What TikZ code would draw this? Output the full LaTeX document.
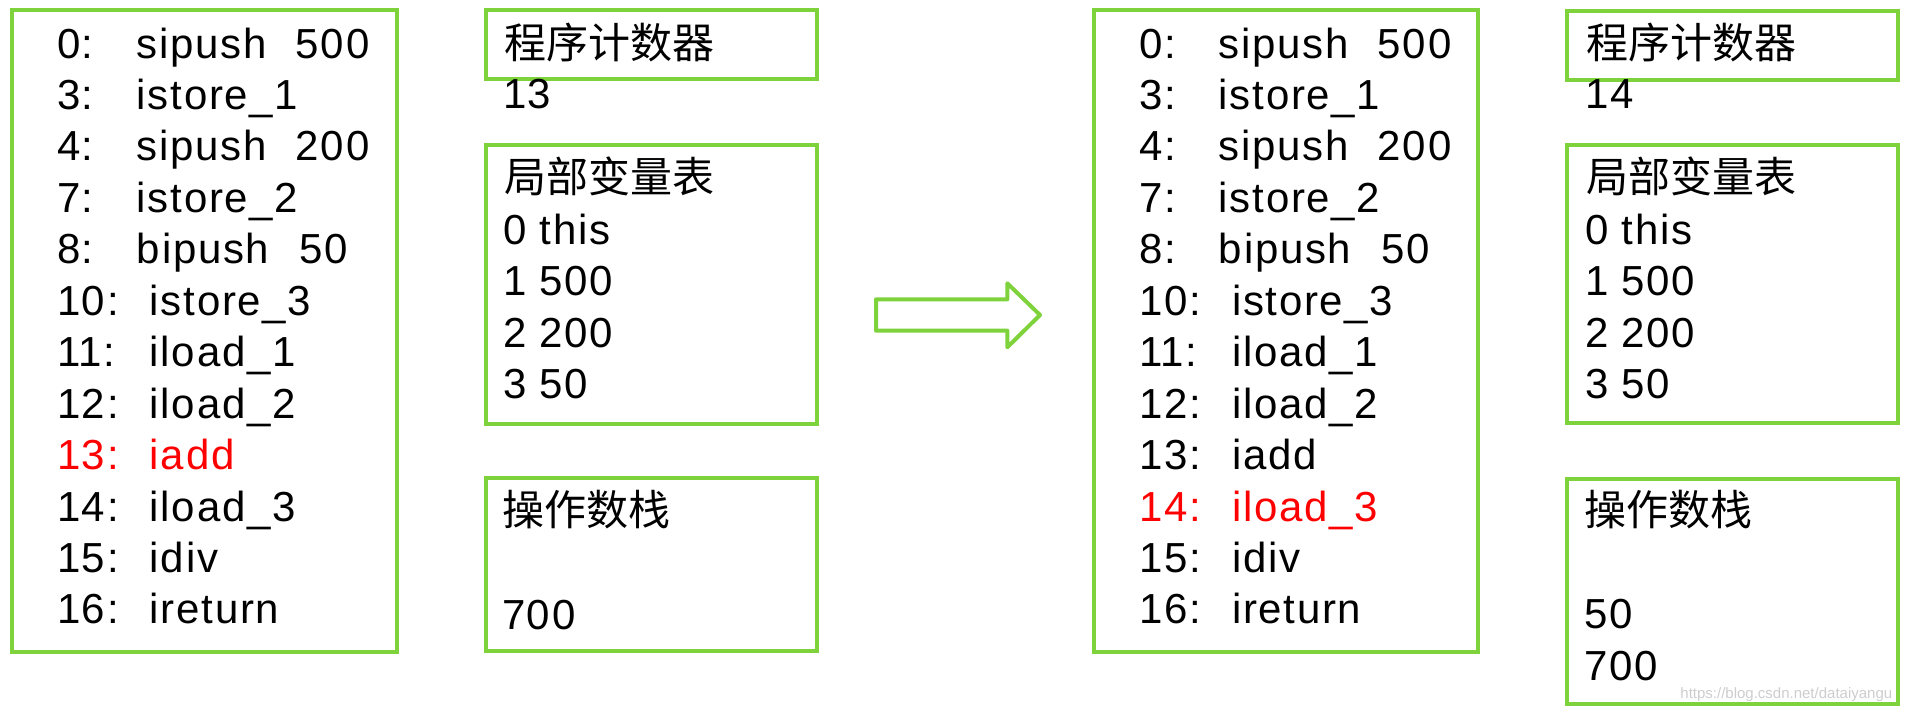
\documentclass[tikz,border=0pt]{standalone}
\usepackage{fontspec}
\setmainfont{Liberation Sans}[LetterSpace=4]
\newfontfamily\cjk{Noto Sans CJK SC}
\newfontfamily\wmfont{Liberation Sans}
\definecolor{boxgreen}{RGB}{126,211,60}
\definecolor{wmgray}{RGB}{205,205,205}
\begin{document}
\begin{tikzpicture}[x=0.5pt,y=-0.5pt,
  greenbox/.style={draw=boxgreen, line width=2pt, inner sep=0pt, outer sep=0pt, rectangle},
  txt/.style={anchor=base west, inner sep=0pt, outer sep=0pt, font=\fontsize{21pt}{25.7pt}\selectfont},
  cjktxt/.style={txt, font=\fontsize{21pt}{25.7pt}\selectfont\cjk},
  arrowshape/.style={draw=boxgreen, line width=2pt, line join=round, fill=white}]
\useasboundingbox (0,0) rectangle (1912,712);

% boxes
\node[greenbox, minimum width=192.5pt, minimum height=321pt] (code1) at (204.5,331) {};
\node[greenbox, minimum width=165.5pt, minimum height=34.5pt] (pc1) at (651.4,44.5) {};
\node[greenbox, minimum width=165.5pt, minimum height=139.5pt] (lv1) at (651.4,284) {};
\node[greenbox, minimum width=165.5pt, minimum height=86.5pt] (st1) at (651.4,564.5) {};

\node[greenbox, minimum width=192pt, minimum height=321pt] (code2) at (1286,331) {};
\node[greenbox, minimum width=165.5pt, minimum height=34.5pt] (pc2) at (1732.5,45) {};
\node[greenbox, minimum width=165.5pt, minimum height=139pt] (lv2) at (1732.5,284.2) {};
\node[greenbox, minimum width=165.5pt, minimum height=112.5pt] (st2) at (1732.5,591) {};

% code listing
\def\coderows{
 {\makebox[40pt][l]{0:}\makebox[79.5pt][l]{sipush}500},
 {\makebox[40pt][l]{3:}istore\_1},
 {\makebox[40pt][l]{4:}\makebox[79.5pt][l]{sipush}200},
 {\makebox[40pt][l]{7:}istore\_2},
 {\makebox[40pt][l]{8:}\makebox[81.5pt][l]{bipush}50},
 {\makebox[46.5pt][l]{10:}istore\_3},
 {\makebox[46.5pt][l]{11:}iload\_1},
 {\makebox[46.5pt][l]{12:}iload\_2},
 {\makebox[46.5pt][l]{13:}iadd},
 {\makebox[46.5pt][l]{14:}iload\_3},
 {\makebox[46.5pt][l]{15:}idiv},
 {\makebox[46.5pt][l]{16:}ireturn}}
\foreach \t [count=\i from 0] in \coderows {
  \ifnum\i=8 \def\lcol{red}\else\def\lcol{black}\fi
  \ifnum\i=9 \def\rcol{red}\else\def\rcol{black}\fi
  \node[txt, text=\lcol] (l\i) at (57, 58+51.45*\i) {\t};
  \node[txt, text=\rcol] (r\i) at (1139, 58+51.45*\i) {\t};
}

% left state
\node[cjktxt] (pct1) at (504,58) {程序计数器};
\node[txt] (pcv1) at (503,108) {13};
\node[cjktxt] (lvt1) at (504,192.5) {局部变量表};
\node[txt] (lva1) at (503,244.3) {0 this};
\node[txt] (lvb1) at (503,295.7) {1 500};
\node[txt] (lvc1) at (503,347) {2 200};
\node[txt] (lvd1) at (503,398.3) {3 50};
\node[cjktxt] (stt1) at (502,525) {操作数栈};
\node[txt] (sta1) at (502,629) {700};

% right state
\node[cjktxt] (pct2) at (1586,58) {程序计数器};
\node[txt] (pcv2) at (1585,108) {14};
\node[cjktxt] (lvt2) at (1586,192.5) {局部变量表};
\node[txt] (lva2) at (1585,244.3) {0 this};
\node[txt] (lvb2) at (1585,295.7) {1 500};
\node[txt] (lvc2) at (1585,347) {2 200};
\node[txt] (lvd2) at (1585,398.3) {3 50};
\node[cjktxt] (stt2) at (1584,525) {操作数栈};
\node[txt] (sta2) at (1584,628) {50};
\node[txt] (stb2) at (1584,680) {700};

% block arrow
\draw[arrowshape] (876,299.3) -- (1007.3,299.3) -- (1007.3,283.3) -- (1040,315)
  -- (1007.3,347.3) -- (1007.3,330.7) -- (876,330.7) -- cycle;

% watermark
\node[anchor=base west, inner sep=0pt, text=wmgray, font=\fontsize{7.5pt}{9pt}\selectfont\wmfont] (wm) at (1680,698) {https://blog.csdn.net/dataiyangu};
\end{tikzpicture}
\end{document}
